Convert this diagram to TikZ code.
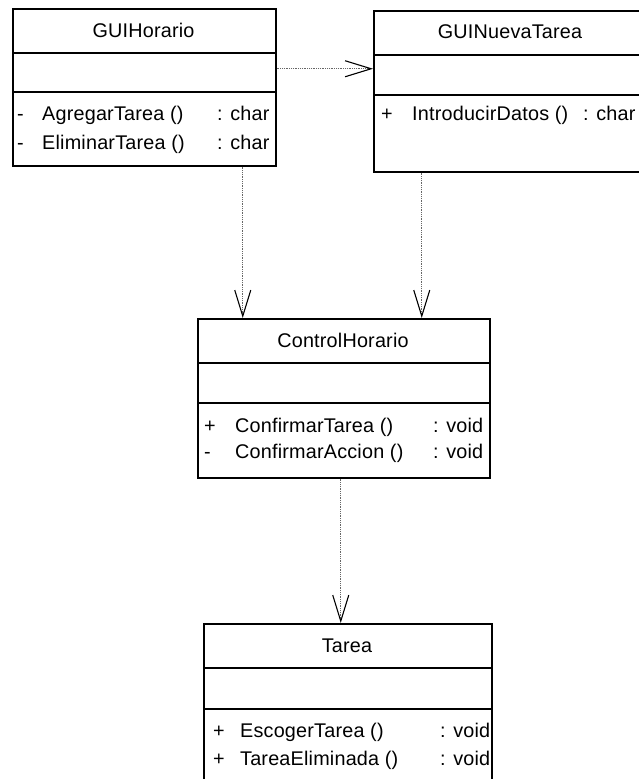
\documentclass[tikz,border=0pt]{standalone}
\usepackage{fontspec}
\setmainfont[LetterSpace=1]{Liberation Sans}
\usetikzlibrary{arrows.meta,calc,positioning}

\tikzset{
  classbox/.style={draw,line width=1.5pt,anchor=north west,inner sep=0pt},
  title/.style={anchor=base,inner sep=0pt},
  member/.style={anchor=base west,inner sep=0pt},
  dep/.style={draw=black!60,line width=0.7pt,dash pattern=on 1pt off 0.8pt,
    -{Straight Barb[length=26pt,width=16pt,line width=1.1pt,color=black]}}
}

\begin{document}
\begin{tikzpicture}[x=1pt,y=-1pt,font=\fontsize{19.8}{23}\selectfont]
\useasboundingbox (0,0) rectangle (639,779);
% classes
\node[classbox,minimum width=263pt,minimum height=157pt] (hor) at (12,8) {};
\node[classbox,minimum width=274pt,minimum height=161pt] (nueva) at (373,10) {};
\node[classbox,minimum width=292pt,minimum height=159pt] (ctrl) at (197,318) {};
\node[classbox,minimum width=288pt,minimum height=170pt] (tarea) at (203,623) {};
% compartments
\draw[line width=1.5pt] (hor.west |- 0,53) -- (hor.east |- 0,53)
  (hor.west |- 0,92) -- (hor.east |- 0,92);
\draw[line width=1.5pt] (nueva.west |- 0,55) -- (nueva.east |- 0,55)
  (nueva.west |- 0,95) -- (nueva.east |- 0,95);
\draw[line width=1.5pt] (ctrl.west |- 0,363) -- (ctrl.east |- 0,363)
  (ctrl.west |- 0,403) -- (ctrl.east |- 0,403);
\draw[line width=1.5pt] (tarea.west |- 0,668) -- (tarea.east |- 0,668)
  (tarea.west |- 0,709) -- (tarea.east |- 0,709);
% names
\node[title] (horName) at (143.5,37) {GUIHorario};
\node[title] (nuevaName) at (510,38) {GUINuevaTarea};
\node[title] (ctrlName) at (343,347) {ControlHorario};
\node[title] (tareaName) at (347,652) {Tarea};
% operations
\node[member] (horOp1) at (17,120) {\makebox[25pt][l]{-}\makebox[175pt][l]{AgregarTarea ()}: char};
\node[member] (horOp2) at (17,149) {\makebox[25pt][l]{-}\makebox[175pt][l]{EliminarTarea ()}: char};
\node[member] (nuevaOp1) at (381,120) {\makebox[31pt][l]{+}\makebox[171pt][l]{IntroducirDatos ()}: char};
\node[member] (ctrlOp1) at (204,432) {\makebox[31pt][l]{+}\makebox[198pt][l]{ConfirmarTarea ()}: void};
\node[member] (ctrlOp2) at (204,458) {\makebox[31pt][l]{-}\makebox[198pt][l]{ConfirmarAccion ()}: void};
\node[member] (tareaOp1) at (213,737) {\makebox[27pt][l]{+}\makebox[200pt][l]{EscogerTarea ()}: void};
\node[member] (tareaOp2) at (213,765) {\makebox[27pt][l]{+}\makebox[200pt][l]{TareaEliminada ()}: void};
% dependencies
\coordinate (h1) at ([yshift=18.5pt]hor.east);
\coordinate (h2) at ([xshift=98.5pt]hor.south);
\coordinate (n1) at ([xshift=-89pt]nueva.south);
\coordinate (c1) at ([xshift=-3pt]ctrl.south);
\draw[dep] (h1) -- (h1 -| nueva.west);
\draw[dep] (h2) -- (h2 |- ctrl.north);
\draw[dep] (n1) -- (n1 |- ctrl.north);
\draw[dep] (c1) -- (c1 |- tarea.north);
\end{tikzpicture}
\end{document}
